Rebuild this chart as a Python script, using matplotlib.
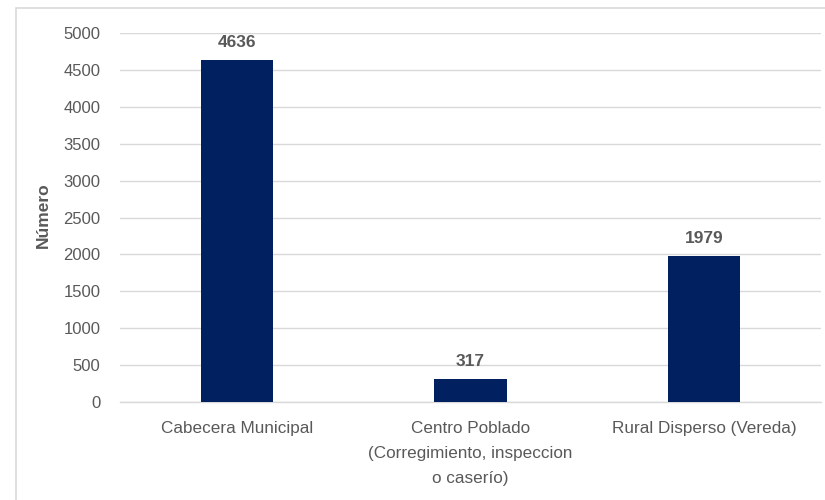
import matplotlib.pyplot as plt
import matplotlib.patches as patches
import numpy as np

categorias = ['Cabecera Municipal',
              'Centro Poblado\n(Corregimiento, inspeccion\no caserío)',
              'Rural Disperso (Vereda)']
valores = [4636, 317, 1979]
yticks = [0, 500, 1000, 1500, 2000, 2500, 3000, 3500, 4000, 4500, 5000]

azul = '#002060'
gris_texto = '#595959'

plt.rcParams['font.family'] = ['Liberation Sans', 'DejaVu Sans']

fig = plt.figure(figsize=(8.25, 5), dpi=100)
fig.patch.set_facecolor('white')

# marco del grafico
marco = patches.Rectangle((16 / 825, -0.01), 1.0, 1 - 8 / 500 + 0.01,
                          transform=fig.transFigure, facecolor='white',
                          edgecolor='#d9d9d9', linewidth=1.2, zorder=-10)
fig.patches.append(marco)

ax = fig.add_axes([120 / 825, 1 - 402 / 500, 701 / 825, 369 / 500])
ax.set_facecolor('none')
ax.set_zorder(5)

x = np.arange(len(categorias))
bars = ax.bar(x, valores, width=0.31, color=azul, zorder=3)

for xi, v in zip(x, valores):
    ax.text(xi, v + 130, str(v), ha='center', va='bottom', fontsize=12.5,
            fontweight='bold', color=gris_texto)

ax.set_xlim(-0.5, 2.5)
ax.set_ylim(0, 5000)
ax.set_yticks(yticks)
ax.set_yticklabels([str(t) for t in yticks], fontsize=12, color=gris_texto)
ax.set_xticks(x)
ax.set_xticklabels(categorias, fontsize=12.3, color=gris_texto, linespacing=1.8)
ax.tick_params(axis='y', length=0, pad=14)
ax.tick_params(axis='x', length=0, pad=14)

ax.grid(axis='y', color='#d9d9d9', linewidth=1.0, zorder=0)
for s in ['top', 'right', 'left']:
    ax.spines[s].set_visible(False)
ax.spines['bottom'].set_color('#d9d9d9')
ax.spines['bottom'].set_linewidth(1.0)

ax.set_ylabel('Número', fontsize=12.5, fontweight='bold', color=gris_texto)
ax.yaxis.set_label_coords(-0.098, 0.505)

fig.savefig('out.png', dpi=100)
